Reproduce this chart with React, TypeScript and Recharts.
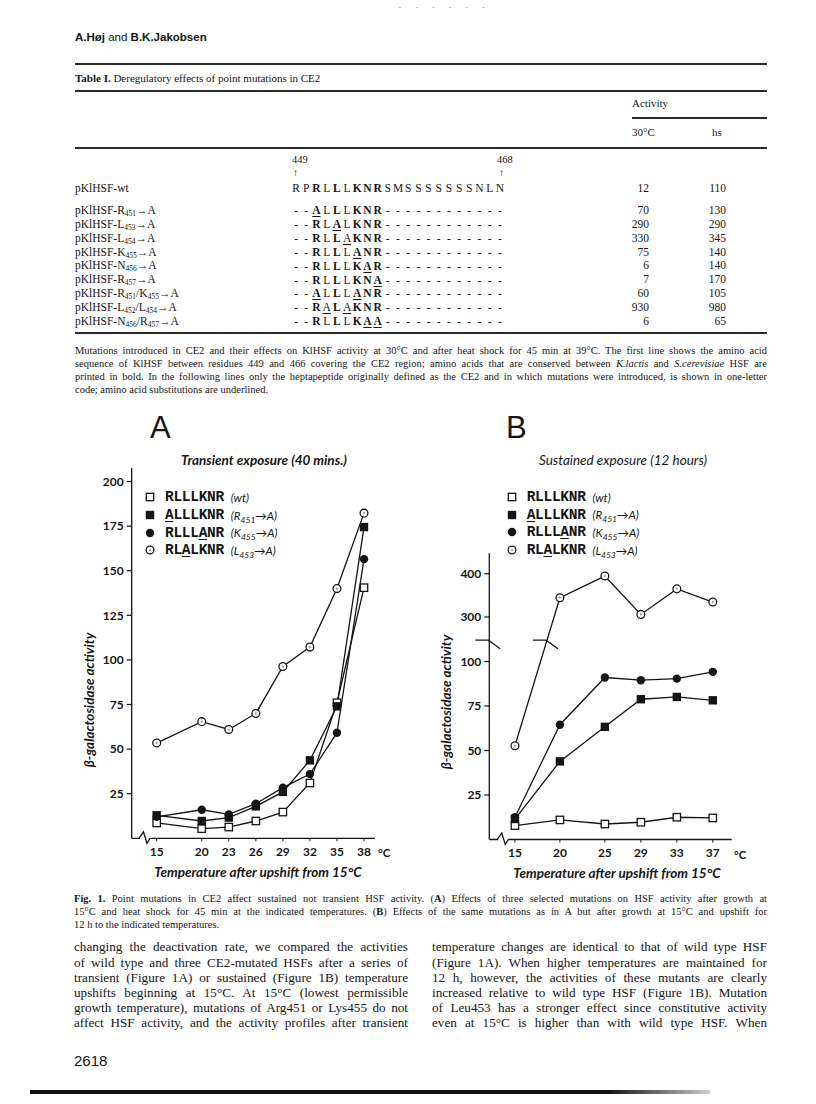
import React from "react";
import { LineChart, Line, XAxis, YAxis, Legend, ReferenceDot } from "recharts";

const INK = "#151515";
const SERIF = '"Liberation Serif", "Times New Roman", serif';
const SANS = 'Lato, "Open Sans", sans-serif';
const MONO = '"Liberation Mono", "DejaVu Sans Mono", monospace';

// ---- Table I ----
const WT_SEQ = "RPRLLLKNRSMSSSSSSSNLN";
const WT_BOLD = [2, 4, 6, 7, 8];
const CE2 = "RLLLKNR";
const ROW_MUTS: string[][][] = [
  [["R", "451"]],
  [["L", "453"]],
  [["L", "454"]],
  [["K", "455"]],
  [["N", "456"]],
  [["R", "457"]],
  [["R", "451"], ["K", "455"]],
  [["L", "452"], ["L", "454"]],
  [["N", "456"], ["R", "457"]],
];
const ROW_SEQS = ["ALLLKNR", "RLALKNR", "RLLAKNR", "RLLLANR", "RLLLKAR", "RLLLKNA", "ALLLANR", "RALAKNR", "RLLLKAA"];
const ACT_30 = [12, 70, 290, 330, 75, 6, 7, 60, 930, 6];
const ACT_HS = [110, 130, 290, 345, 140, 140, 170, 105, 980, 65];

// ---- Fig. 1A: transient exposure ----
const TEMPS_A = [15, 20, 23, 26, 29, 32, 35, 38];
const A_WT = [8.6, 5.4, 6.3, 9.7, 14.7, 31, 76, 140.5];
const A_R451 = [12.9, 9.7, 11.6, 17.9, 26, 43.7, 74, 174.5];
const A_K455 = [12, 16, 13.4, 19.4, 28.4, 36, 59.2, 156.5];
const A_L453 = [53.4, 65.4, 61, 70, 96.3, 107.2, 140, 182.3];
const Y_TICKS_A = [25, 50, 75, 100, 125, 150, 175, 200];

// ---- Fig. 1B: sustained exposure ----
const TEMPS_B = [15, 20, 25, 29, 33, 37];
const B_WT = [7.8, 11, 8.7, 9.7, 12.5, 12.1];
const B_R451 = [11.5, 43.9, 63.3, 78.8, 80.1, 78.2];
const B_K455 = [12.5, 64.5, 91, 89.5, 90.4, 94.2];
const B_L453 = [52.7, 344.6, 394.6, 306, 365, 334.6];
const Y_TICKS_B = [25, 50, 75, 100, 300, 400];

const SERIES_KEYS = ["wt", "r451", "k455", "l453"];
const SERIES_MARKERS = ["openSquare", "filledSquare", "filledCircle", "openCircle"];
const LEGEND_SEQS = ["RLLLKNR", "ALLLKNR", "RLLLANR", "RLALKNR"];
const LEGEND_RES = [["wt", ""], ["R", "451"], ["K", "455"], ["L", "453"]];

// broken axis in B: values above the break are drawn on a compressed scale
const toB = (v: number) => (v <= 200 ? v : 125 + (v - 300) * 0.2433);
const B_BREAK = 112;

const dataA = TEMPS_A.map((t, i) => ({ temp: t, wt: A_WT[i], r451: A_R451[i], k455: A_K455[i], l453: A_L453[i] }));
const dataB = TEMPS_B.map((t, i) => ({
  temp: t,
  wt: toB(B_WT[i]),
  r451: toB(B_R451[i]),
  k455: toB(B_K455[i]),
  l453: toB(B_L453[i]),
}));
const bLineCross = (() => {
  const lo = toB(B_L453[0]);
  const hi = toB(B_L453[1]);
  const f = (B_BREAK - lo) / (hi - lo);
  return TEMPS_B[0] + (TEMPS_B[1] - TEMPS_B[0]) * f;
})();

function Marker({ kind, cx, cy }: { kind: string; cx: number; cy: number }) {
  if (kind === "openSquare")
    return <rect x={cx - 3.7} y={cy - 3.7} width={7.4} height={7.4} fill="#fff" stroke={INK} strokeWidth={1.3} />;
  if (kind === "filledSquare") return <rect x={cx - 4.2} y={cy - 4.2} width={8.4} height={8.4} fill={INK} />;
  if (kind === "filledCircle") return <circle cx={cx} cy={cy} r={4.2} fill={INK} />;
  return (
    <g>
      <circle cx={cx} cy={cy} r={3.9} fill="#fff" stroke={INK} strokeWidth={1.3} />
      <circle cx={cx} cy={cy} r={1.1} fill="#999" />
    </g>
  );
}

function Underlined({ seq }: { seq: string }) {
  return (
    <>
      {seq.split("").map((c, i) => (
        <span key={i} style={{ textDecoration: c !== CE2[i] ? "underline" : undefined, textUnderlineOffset: 2 }}>
          {c}
        </span>
      ))}
    </>
  );
}

const renderLegend = () => (
  <div style={{ color: INK }}>
    {SERIES_KEYS.map((k, i) => (
      <div key={k} style={{ display: "flex", alignItems: "center", height: 17.7 }}>
        <svg width={10} height={10} style={{ flex: "none" }}>
          <Marker kind={SERIES_MARKERS[i]} cx={5} cy={5} />
        </svg>
        <span style={{ marginLeft: 10, fontFamily: MONO, fontWeight: 700, fontSize: 14.5, letterSpacing: -0.3 }}>
          <Underlined seq={LEGEND_SEQS[i]} />
        </span>
        <span style={{ marginLeft: 7, fontFamily: SANS, fontStyle: "italic", fontSize: 11.5 }}>
          ({LEGEND_RES[i][0]}
          {LEGEND_RES[i][1] && (
            <>
              <span style={{ fontSize: 8.5, position: "relative", top: 3 }}>{LEGEND_RES[i][1]}</span>→A
            </>
          )}
          )
        </span>
      </div>
    ))}
  </div>
);

const xBreak = (p: any) => (
  <g>
    <rect x={p.cx - 5} y={p.cy - 2} width={10} height={4} fill="#fff" />
    <path d={`M${p.cx - 6},${p.cy} L${p.cx - 1.5},${p.cy - 6.5} L${p.cx + 2},${p.cy + 5} L${p.cx + 5},${p.cy}`} fill="none" stroke={INK} strokeWidth={1.3} />
  </g>
);
const stepBreak = (p: any) => (
  <path d={`M${p.cx - 14},${p.cy} L${p.cx - 1},${p.cy} L${p.cx + 11},${p.cy + 8.5}`} fill="none" stroke={INK} strokeWidth={1.3} />
);

type PanelProps = {
  left: number;
  top: number;
  width: number;
  height: number;
  margin: { top: number; right: number; bottom: number; left: number };
  data: any[];
  xDomain: number[];
  xTicks: number[];
  yDomain: number[];
  yTicks: number[];
  yFormat?: (v: number) => string;
  legendLeft: number;
  legendTop: number;
  breaks: { x: number; y: number; shape: (p: any) => React.ReactElement }[];
};

function Panel(p: PanelProps) {
  const tick = { fontSize: 12, fill: INK, fontFamily: SANS, fontWeight: 700 };
  return (
    <div style={{ position: "absolute", left: p.left, top: p.top }}>
      <LineChart width={p.width} height={p.height} data={p.data} margin={p.margin}>
        <XAxis
          type="number"
          dataKey="temp"
          domain={p.xDomain}
          ticks={p.xTicks}
          allowDataOverflow
          height={20}
          tick={tick}
          tickSize={3}
          tickMargin={6}
          tickLine={{ stroke: INK }}
          axisLine={{ stroke: INK, strokeWidth: 1.3 }}
        />
        <YAxis
          type="number"
          domain={p.yDomain}
          ticks={p.yTicks}
          allowDataOverflow
          width={60}
          tick={tick}
          tickSize={5}
          tickMargin={3}
          tickFormatter={p.yFormat}
          tickLine={{ stroke: INK, strokeWidth: 1.2 }}
          axisLine={{ stroke: INK, strokeWidth: 1.3 }}
        />
        <Legend
          layout="vertical"
          verticalAlign="middle"
          align="center"
          content={renderLegend}
          wrapperStyle={{ left: p.legendLeft, top: p.legendTop, width: 260, height: "auto" }}
        />
        {SERIES_KEYS.map((k, i) => (
          <Line
            key={k}
            type="linear"
            dataKey={k}
            stroke={INK}
            strokeWidth={1.3}
            isAnimationActive={false}
            activeDot={false}
            dot={(d: any) => <Marker key={`${k}-${d.index}`} kind={SERIES_MARKERS[i]} cx={d.cx} cy={d.cy} />}
          />
        ))}
        {p.breaks.map((b, i) => (
          <ReferenceDot key={i} x={b.x} y={b.y} r={0} ifOverflow="visible" shape={b.shape} />
        ))}
      </LineChart>
    </div>
  );
}

function Txt(props: any) {
  const { x, y, size = 11, family = SERIF, weight, italic, w, align, children, style } = props;
  return (
    <div
      style={{
        position: "absolute",
        left: x,
        top: y - size * 0.62,
        width: w,
        fontSize: size,
        lineHeight: `${size * 1.24}px`,
        fontFamily: family,
        fontWeight: weight,
        fontStyle: italic ? "italic" : undefined,
        textAlign: align,
        whiteSpace: "nowrap",
        ...style,
      }}
    >
      {children}
    </div>
  );
}

function Rule({ x1 = 75, x2 = 767, y, t = 1.4 }: { x1?: number; x2?: number; y: number; t?: number }) {
  return <div style={{ position: "absolute", left: x1, top: y - t / 2, width: x2 - x1, height: t, background: "#2a2a2a" }} />;
}

function YLabel({ cx, cy }: { cx: number; cy: number }) {
  return (
    <div
      style={{
        position: "absolute",
        left: cx - 100,
        top: cy - 9,
        width: 200,
        height: 18,
        lineHeight: "18px",
        textAlign: "center",
        transform: "rotate(-90deg)",
        fontFamily: SANS,
        fontStyle: "italic",
        fontWeight: 700,
        fontSize: 13.5,
      }}
    >
      β-galactosidase activity
    </div>
  );
}

function SeqCells({ y, cells }: { y: number; cells: { c: string; b?: boolean; u?: boolean }[] }) {
  return (
    <div style={{ position: "absolute", left: 291, top: y - 7, height: 14, lineHeight: "14px", fontFamily: SERIF, fontSize: 11.5, whiteSpace: "nowrap" }}>
      {cells.map((c, i) => (
        <span
          key={i}
          style={{
            display: "inline-block",
            width: 10.2,
            textAlign: "center",
            fontWeight: c.b ? 700 : 400,
            textDecoration: c.u ? "underline" : undefined,
            textUnderlineOffset: 2,
          }}
        >
          {c.c}
        </span>
      ))}
    </div>
  );
}

function mutantCells(seq: string) {
  const cells = [{ c: "-" }, { c: "-" }] as { c: string; b?: boolean; u?: boolean }[];
  seq.split("").forEach((c, i) => cells.push({ c, b: WT_BOLD.includes(i + 2), u: c !== CE2[i] }));
  for (let i = 0; i < 12; i++) cells.push({ c: "-" });
  return cells;
}

const Sub = ({ children }: any) => <span style={{ fontSize: 7.5, position: "relative", top: 2 }}>{children}</span>;

const TABLE_NOTE = [
  <>Mutations introduced in CE2 and their effects on KlHSF activity at 30°C and after heat shock for 45 min at 39°C. The first line shows the amino acid</>,
  <>sequence of KlHSF between residues 449 and 466 covering the CE2 region; amino acids that are conserved between <i>K.lactis</i> and <i>S.cerevisiae</i> HSF are</>,
  <>printed in bold. In the following lines only the heptapeptide originally defined as the CE2 and in which mutations were introduced, is shown in one-letter</>,
  <>code; amino acid substitutions are underlined.</>,
];
const FIG_NOTE = [
  <><b>Fig. 1.</b> Point mutations in CE2 affect sustained not transient HSF activity. (<b>A</b>) Effects of three selected mutations on HSF activity after growth at</>,
  <>15°C and heat shock for 45 min at the indicated temperatures. (<b>B</b>) Effects of the same mutations as in A but after growth at 15°C and upshift for</>,
  <>12 h to the indicated temperatures.</>,
];
const BODY_LEFT = [
  "changing the deactivation rate, we compared the activities",
  "of wild type and three CE2-mutated HSFs after a series of",
  "transient (Figure 1A) or sustained (Figure 1B) temperature",
  "upshifts beginning at 15°C. At 15°C (lowest permissible",
  "growth temperature), mutations of Arg451 or Lys455 do not",
  "affect HSF activity, and the activity profiles after transient",
];
const BODY_RIGHT = [
  "temperature changes are identical to that of wild type HSF",
  "(Figure 1A). When higher temperatures are maintained for",
  "12 h, however, the activities of these mutants are clearly",
  "increased relative to wild type HSF (Figure 1B). Mutation",
  "of Leu453 has a stronger effect since constitutive activity",
  "even at 15°C is higher than with wild type HSF. When",
];

function Justified({ x, y, w, size, lh, lines, lastLeft }: any) {
  return (
    <>
      {lines.map((l: any, i: number) => (
        <div
          key={i}
          style={{
            position: "absolute",
            left: x,
            top: y + i * lh - lh / 2,
            width: w,
            height: lh,
            lineHeight: `${lh}px`,
            fontFamily: SERIF,
            fontSize: size,
            textAlign: "justify",
            textAlignLast: lastLeft && i === lines.length - 1 ? "left" : "justify",
            whiteSpace: "nowrap",
          }}
        >
          {l}
        </div>
      ))}
    </>
  );
}

export default function App() {
  const rowY = (i: number) => 210 + 13.9 * i;
  return (
    <div style={{ position: "absolute", left: 0, top: 0, width: 816, height: 1104, background: "#fff", color: INK, overflow: "hidden" }}>
      <Txt x={398} y={7} size={9} family={SANS} style={{ color: "#aaa", letterSpacing: 6 }}>- · · · · ·</Txt>
      <Txt x={75} y={37} size={11.5} family='"Liberation Sans", Arial, sans-serif'>
        <b>A.Høj</b> and <b>B.K.Jakobsen</b>
      </Txt>

      {/* Table I */}
      <Rule y={64} t={1.6} />
      <Txt x={75} y={79} size={11}>
        <b>Table I.</b> Deregulatory effects of point mutations in CE2
      </Txt>
      <Rule y={91} />
      <Txt x={632} y={104} size={11}>Activity</Txt>
      <Rule x1={632} y={118} />
      <Txt x={632} y={133} size={11}>30°C</Txt>
      <Txt x={712} y={133} size={11}>hs</Txt>
      <Rule y={148} />
      <Txt x={292} y={160} size={10.5}>449</Txt>
      <Txt x={293} y={173} size={10}>↑</Txt>
      <Txt x={497} y={160} size={10.5}>468</Txt>
      <Txt x={499} y={173} size={10}>↑</Txt>

      <Txt x={75} y={188} size={11.5}>pKlHSF-wt</Txt>
      <SeqCells y={188} cells={WT_SEQ.split("").map((c, i) => ({ c, b: WT_BOLD.includes(i) }))} />
      <Txt x={609} w={40} align="right" y={188} size={11.5}>{ACT_30[0]}</Txt>
      <Txt x={686} w={40} align="right" y={188} size={11.5}>{ACT_HS[0]}</Txt>

      {ROW_MUTS.map((m, i) => (
        <React.Fragment key={i}>
          <Txt x={75} y={rowY(i)} size={11.5}>
            pKlHSF-
            {m.map(([aa, pos], j) => (
              <React.Fragment key={j}>
                {j > 0 ? "/" : ""}
                {aa}
                <Sub>{pos}</Sub>
              </React.Fragment>
            ))}
            →A
          </Txt>
          <SeqCells y={rowY(i)} cells={mutantCells(ROW_SEQS[i])} />
          <Txt x={609} w={40} align="right" y={rowY(i)} size={11.5}>{ACT_30[i + 1]}</Txt>
          <Txt x={686} w={40} align="right" y={rowY(i)} size={11.5}>{ACT_HS[i + 1]}</Txt>
        </React.Fragment>
      ))}
      <Rule y={333} t={1.6} />
      <Justified x={75} y={350} w={692} size={10.5} lh={13} lines={TABLE_NOTE} lastLeft />

      {/* Figure 1A */}
      <Txt x={150} y={428} size={31} family='"Liberation Sans", Arial, sans-serif'>A</Txt>
      <Txt x={164} w={200} align="center" y={460} size={13.5} family={SANS} weight={700} italic>
        Transient exposure (40 mins.)
      </Txt>
      <YLabel cx={89} cy={700} />
      <Panel
        left={60}
        top={440}
        width={340}
        height={440}
        margin={{ top: 28, right: 25, bottom: 21.7, left: 11.7 }}
        data={dataA}
        xDomain={[12.23, 39.22]}
        xTicks={TEMPS_A}
        yDomain={[0, 207.6]}
        yTicks={Y_TICKS_A}
        legendLeft={85}
        legendTop={48.5}
        breaks={[{ x: 13.7, y: 0, shape: xBreak }]}
      />
      <Txt x={378} y={853} size={11.5} family={SANS} weight={700}>°C</Txt>
      <Txt x={138} w={240} align="center" y={872} size={13.5} family={SANS} weight={700} italic>
        Temperature after upshift from 15°C
      </Txt>

      {/* Figure 1B */}
      <Txt x={506} y={428} size={31} family='"Liberation Sans", Arial, sans-serif'>B</Txt>
      <Txt x={523} w={200} align="center" y={460} size={13.5} family={SANS} italic>
        Sustained exposure (12 hours)
      </Txt>
      <YLabel cx={446} cy={702} />
      <Panel
        left={420}
        top={440}
        width={330}
        height={440}
        margin={{ top: 113.3, right: 18.3, bottom: 20.5, left: 9.3 }}
        data={dataB}
        xDomain={[12.15, 39.1]}
        xTicks={TEMPS_B}
        yDomain={[0, 160.8]}
        yTicks={Y_TICKS_B.map(toB)}
        yFormat={(v: number) => String(Y_TICKS_B.find((t) => Math.abs(toB(t) - v) < 0.01) ?? "")}
        legendLeft={86.7}
        legendTop={48.2}
        breaks={[
          { x: 13.7, y: 0, shape: xBreak },
          { x: 12.15, y: B_BREAK, shape: stepBreak },
          { x: bLineCross, y: B_BREAK, shape: stepBreak },
        ]}
      />
      <Txt x={734} y={855} size={11.5} family={SANS} weight={700}>°C</Txt>
      <Txt x={497} w={240} align="center" y={873} size={13.5} family={SANS} weight={700} italic>
        Temperature after upshift from 15°C
      </Txt>

      {/* captions and body */}
      <Justified x={74} y={898} w={693} size={10.5} lh={13} lines={FIG_NOTE} lastLeft />
      <Justified x={74} y={947} w={334} size={13.2} lh={15.1} lines={BODY_LEFT} />
      <Justified x={432} y={947} w={335} size={13.2} lh={15.1} lines={BODY_RIGHT} />
      <Txt x={74} y={1061} size={15} family='"Liberation Sans", Arial, sans-serif'>2618</Txt>
      <div style={{ position: "absolute", left: 30, top: 1090, width: 680, height: 4, background: "linear-gradient(90deg, #111 0%, #111 85%, rgba(0,0,0,0.2) 100%)" }} />
    </div>
  );
}
